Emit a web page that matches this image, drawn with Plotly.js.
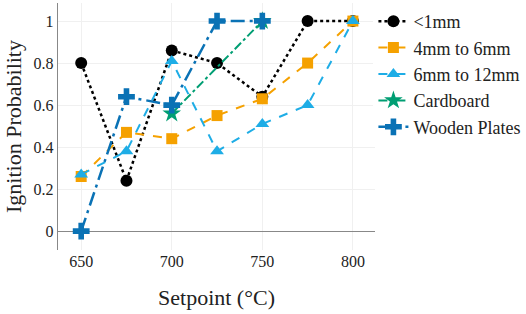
<!DOCTYPE html>
<html><head><meta charset="utf-8">
<script src="https://cdn.plot.ly/plotly-3.0.1.min.js"></script>
<style>html,body{margin:0;padding:0;background:#fff}#c{width:526px;height:314px}</style>
</head><body><div id="c"></div>
<script>
const setpoints = [650, 675, 700, 725, 750, 775, 800];
const fine = [0.80, 0.24, 0.86, 0.80, 0.64, 1.00, 1.00];
const mid = [0.26, 0.47, 0.44, 0.55, 0.63, 0.80, 1.00];
const coarse = [0.27, 0.38, 0.81, 0.38, 0.51, 0.60, 1.00];
const cardX = [700, 750];
const cardboard = [0.56, 1.00];
const woodX = [650, 675, 700, 725, 750];
const wood = [0.00, 0.64, 0.60, 1.00, 1.00];
const xTicks = [650, 700, 750, 800];
const yTicks = [0, 0.2, 0.4, 0.6, 0.8, 1];
const yTickText = ['0', '0.2', '0.4', '0.6', '0.8', '1'];

const FONT = 'Liberation Serif, DejaVu Serif, serif';
const traces = [
  {x: setpoints, y: fine, name: '<1mm', mode: 'lines+markers',
   line: {color: '#000000', dash: 'dot', width: 2.5},
   marker: {symbol: 'circle', size: 12, color: '#000000'}},
  {x: setpoints, y: mid, name: '4mm to 6mm', mode: 'lines+markers',
   line: {color: '#F5A100', dash: 'dash', width: 2},
   marker: {symbol: 'square', size: 11, color: '#F5A100'}},
  {x: setpoints, y: coarse, name: '6mm to 12mm', mode: 'lines+markers',
   line: {color: '#1EADE6', dash: 'dash', width: 2},
   marker: {symbol: 'triangle-up', size: 12, color: '#1EADE6'}},
  {x: cardX, y: cardboard, name: 'Cardboard', mode: 'lines+markers',
   line: {color: '#009E73', dash: 'dashdot', width: 2},
   marker: {symbol: 'star', size: 14, color: '#009E73'}},
  {x: woodX, y: wood, name: 'Wooden Plates', mode: 'lines+markers',
   line: {color: '#0A72B5', dash: '14px,5px,3px,5px', width: 2.5},
   marker: {symbol: 'cross', size: 14, color: '#0A72B5'}}
];
const layout = {
  width: 526, height: 314,
  margin: {l: 58, r: 151, t: 3, b: 64, autoexpand: false},
  paper_bgcolor: '#fff', plot_bgcolor: '#fff',
  font: {family: FONT, size: 16, color: '#222'},
  showlegend: true,
  legend: {x: 0.995, y: 1.0, xanchor: 'left', yanchor: 'top',
           font: {family: FONT, size: 18, color: '#222'}, itemwidth: 30},
  xaxis: {range: [637.2, 812.2], tickvals: xTicks, ticktext: xTicks.map(String),
          showgrid: true, gridcolor: '#f0f0f0', zeroline: false, showline: false,
          ticks: '', tickfont: {size: 16}, ticklen: 0,
          title: {text: 'Setpoint (°C)', font: {size: 22}, standoff: 20}},
  yaxis: {range: [-0.09, 1.086], tickvals: yTicks, ticktext: yTickText,
          showgrid: true, gridcolor: '#f0f0f0', zeroline: true, zerolinecolor: '#888', zerolinewidth: 1.2,
          showline: true, linecolor: '#888', linewidth: 1.2, ticks: '', tickfont: {size: 16},
          title: {text: 'Ignition Probability', font: {size: 22}, standoff: 5}}
};
Plotly.newPlot('c', traces, layout, {displayModeBar: false, staticPlot: true});
</script></body></html>
